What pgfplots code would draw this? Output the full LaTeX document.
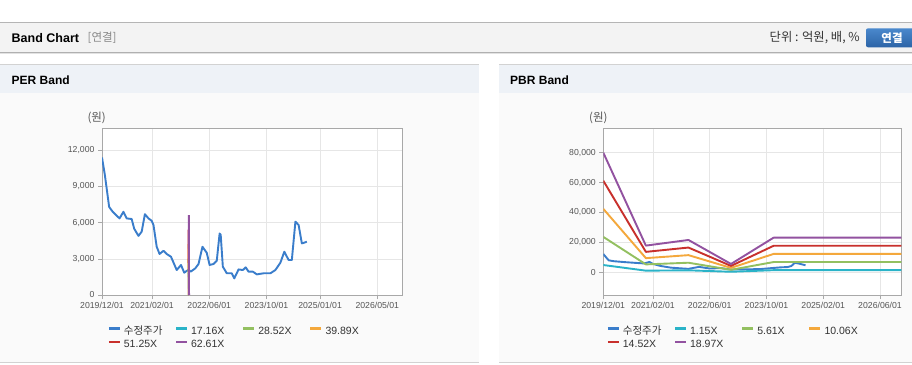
\documentclass[border=0pt]{standalone}
\usepackage{fontspec}
\setmainfont{Liberation Sans}
\newfontfamily\kr{Noto Sans CJK KR}
\usepackage{pgfplots}
\pgfplotsset{compat=1.18}
\definecolor{cPrice}{HTML}{3A7DCB}
\definecolor{cCyan}{HTML}{2AB3C8}
\definecolor{cGreen}{HTML}{93C060}
\definecolor{cOrange}{HTML}{F4A83C}
\definecolor{cRed}{HTML}{C8302C}
\definecolor{cPurple}{HTML}{9252A0}
\definecolor{gridc}{HTML}{E6E6E6}
\definecolor{axisc}{HTML}{A8A8A8}
\definecolor{tickc}{HTML}{555555}
\definecolor{headbg}{HTML}{F3F3F3}
\definecolor{panhead}{HTML}{EEF2F7}
\definecolor{panbody}{HTML}{FAFAFA}
\definecolor{btnA}{HTML}{4A88CC}
\definecolor{btnB}{HTML}{2C64A6}
\definecolor{legtext}{HTML}{333333}
\definecolor{lnA}{HTML}{B5B5B5}
\definecolor{lnB}{HTML}{B0B0B0}
\definecolor{lnC}{HTML}{E2E2E2}
\definecolor{lnD}{HTML}{D2D2D2}
\definecolor{grey88}{HTML}{888888}
\definecolor{grey33}{HTML}{333333}

\pgfplotsset{bandax/.style={
  scale only axis, height=166.7pt, xmin=0, xmax=84,
  anchor=south west,
  axis line style={axisc, line width=0.8pt},
  every tick/.style={axisc, line width=0.6pt},
  tick align=outside, major tick length=4pt, tick pos=left,
  xmajorgrids, ymajorgrids, major grid style={gridc, line width=0.6pt},
  axis background/.style={fill=white},
  tick label style={font=\fontsize{8.7}{10}\selectfont, text=tickc},
  /pgf/number format/assume math mode=true,
  /pgf/number format/1000 sep={,},
  scaled y ticks=false,
  legend image code/.code={\draw[#1, line width=2.2pt] (0pt,3.5pt) -- (11pt,3.5pt);},
  legend style={anchor=north west, draw=none, fill=none, inner sep=0pt, outer sep=0pt,
    legend columns=4, font=\fontsize{10.5}{12}\selectfont, text=legtext,
    cells={anchor=west},
    nodes={inner sep=0pt, text height=8pt, text depth=2.5pt},
    /tikz/every odd column/.append style={column sep=3pt},
    row sep=2.8pt},
  every axis plot/.append style={line width=1.9pt, line join=round},
}}

\begin{document}
\begin{tikzpicture}[x=1pt,y=1pt]
\useasboundingbox (0,0) rectangle (912,364);
\clip (0,0) rectangle (912,364);
\fill[white] (0,0) rectangle (912,364);
% header band
\fill[headbg] (0,311.3) rectangle (912,341.5);
\draw[lnA, line width=0.8pt] (0,341.5) -- (912,341.5);
\draw[lnB, line width=0.8pt] (0,311.3) -- (912,311.3);
\draw[lnC, line width=1pt] (0,310.2) -- (912,310.2);
\node[anchor=west, inner sep=0pt, font=\bfseries\fontsize{12.5}{14}\selectfont] at (11.5,326) {Band Chart};
\node[anchor=west, inner sep=0pt, text=grey88, font=\kr\fontsize{11.5}{13}\selectfont] at (87.5,326) {[연결]};
\node[anchor=east, inner sep=0pt, text=grey33, font=\kr\fontsize{12.3}{14}\selectfont] at (860,326) {단위 : 억원, 배, \%};
\shade[top color=btnA, bottom color=btnB, rounded corners=2pt] (866,316.7) rectangle (920,335.7);
\node[inner sep=0pt, text=white, font=\kr\bfseries\fontsize{11.5}{13}\selectfont] at (892,326) {연결};
% panels
\foreach \a/\b in {0/479,499/912}{
  \fill[panbody] (\a,2) rectangle (\b,271.3);
  \fill[panhead] (\a,271.3) rectangle (\b,299.7);
  \draw[lnD, line width=0.8pt] (\a,299.7) -- (\b,299.7);
  \draw[lnD, line width=0.8pt] (\a,1.5) -- (\b,1.5);
}
\node[anchor=west, inner sep=0pt, font=\bfseries\fontsize{12}{14}\selectfont] at (11.5,284) {PER Band};
\node[anchor=west, inner sep=0pt, font=\bfseries\fontsize{12}{14}\selectfont] at (510,284) {PBR Band};
\node[inner sep=0pt, text=tickc, font=\kr\fontsize{11.5}{13}\selectfont] at (96.7,246.5) {(원)};
\node[inner sep=0pt, text=tickc, font=\kr\fontsize{11.5}{13}\selectfont] at (598.3,246.5) {(원)};

% PER Band
\begin{axis}[bandax, at={(102pt,69pt)}, width=300.3pt,
  ymin=0, ymax=13820, ytick={0,3000,6000,9000,12000},
  xtick={0,14,30,46,61,77},
  xticklabels={2019/12/01,2021/02/01,2022/06/01,2023/10/01,2025/01/01,2026/05/01},
  legend style={at={(0.019,-0.19)}}]
\addplot[cPrice] coordinates {
(0,11400) (0.8,9950) (2,7300) (3,6900) (4.9,6350) (6,6900) (6.9,6350) (8.3,6300)
(9,5500) (10.2,4900) (11.1,5250) (12,6700) (13,6350) (13.9,6150) (14.4,5800)
(15.3,4000) (16.1,3400) (17.2,3670) (18.1,3400) (19.3,3170) (20.9,2070) (22.1,2490)
(23,1850) (23.7,2000) (24.3,2100) (24.8,1935) (26.1,2210) (27,2570) (28.1,4000)
(29.3,3500) (30.1,2490) (31.2,2570) (32.1,2840) (32.9,5100) (33.2,5000) (33.8,2350)
(34.9,1800) (36.3,1800) (37,1380) (38.2,2120) (39.4,2070) (40.2,2290) (41,1935)
(42.2,1935) (43.3,1710) (45.2,1800) (47.1,1800) (48.5,2070) (49.9,2680) (51,3590)
(52.2,2900) (53.1,2900) (54.1,6080) (55,5800) (55.9,4280) (56.6,4340) (57.3,4420)};
\addlegendentry{\makebox[51pt][l]{\kr 수정주가}}
\addplot[cCyan] coordinates {(24.25,1817) (24.35,0)};
\addlegendentry{\makebox[51pt][l]{17.16X}}
\addplot[cGreen] coordinates {(24.2,3020) (24.3,0)};
\addlegendentry{\makebox[51pt][l]{28.52X}}
\addplot[cOrange] coordinates {(24.2,4224) (24.3,0)};
\addlegendentry{\makebox[51pt][l]{39.89X}}
\addplot[cRed] coordinates {(24.2,5427) (24.3,0)};
\addlegendentry{\makebox[51pt][l]{51.25X}}
\addplot[cPurple] coordinates {(24.3,6630) (24.35,0)};
\addlegendentry{\makebox[51pt][l]{62.61X}}
\end{axis}

% PBR Band
\begin{axis}[bandax, at={(603.3pt,69pt)}, width=298pt,
  ymin=-15200, ymax=96300, ytick={0,20000,40000,60000,80000},
  xtick={0,14,30,46,62,78},
  xticklabels={2019/12/01,2021/02/01,2022/06/01,2023/10/01,2025/02/01,2026/06/01},
  legend style={at={(0.0114,-0.19)}}]
\addplot[cPrice] coordinates {
(0,12200) (1.5,8000) (3,7400) (6,6800) (9,6300) (11.5,5900) (13,6900) (14,5600)
(16,4300) (19,3100) (22,2600) (24,2300) (27,3600) (30,2500) (33,2800) (36,1800)
(40,2000) (44,2100) (48,2900) (50,3300) (52,3500) (53,4200) (54,6300) (55,5900) (57,4700)};
\addlegendentry{\makebox[51pt][l]{\kr 수정주가}}
\addplot[cCyan] coordinates {(0,4850) (12,1081) (24,1310) (36,337) (48,1403) (84,1403)};
\addlegendentry{\makebox[51pt][l]{1.15X}}
\addplot[cGreen] coordinates {(0,23657) (12,5273) (24,6390) (36,1644) (48,6844) (84,6844)};
\addlegendentry{\makebox[51pt][l]{5.61X}}
\addplot[cOrange] coordinates {(0,42423) (12,9456) (24,11458) (36,2948) (48,12273) (84,12273)};
\addlegendentry{\makebox[51pt][l]{10.06X}}
\addplot[cRed] coordinates {(0,61231) (12,13649) (24,16538) (36,4254) (48,17714) (84,17714)};
\addlegendentry{\makebox[51pt][l]{14.52X}}
\addplot[cPurple] coordinates {(0,79996) (12,17832) (24,21607) (36,5558) (48,23143) (84,23143)};
\addlegendentry{\makebox[51pt][l]{18.97X}}
\end{axis}
\end{tikzpicture}
\end{document}
